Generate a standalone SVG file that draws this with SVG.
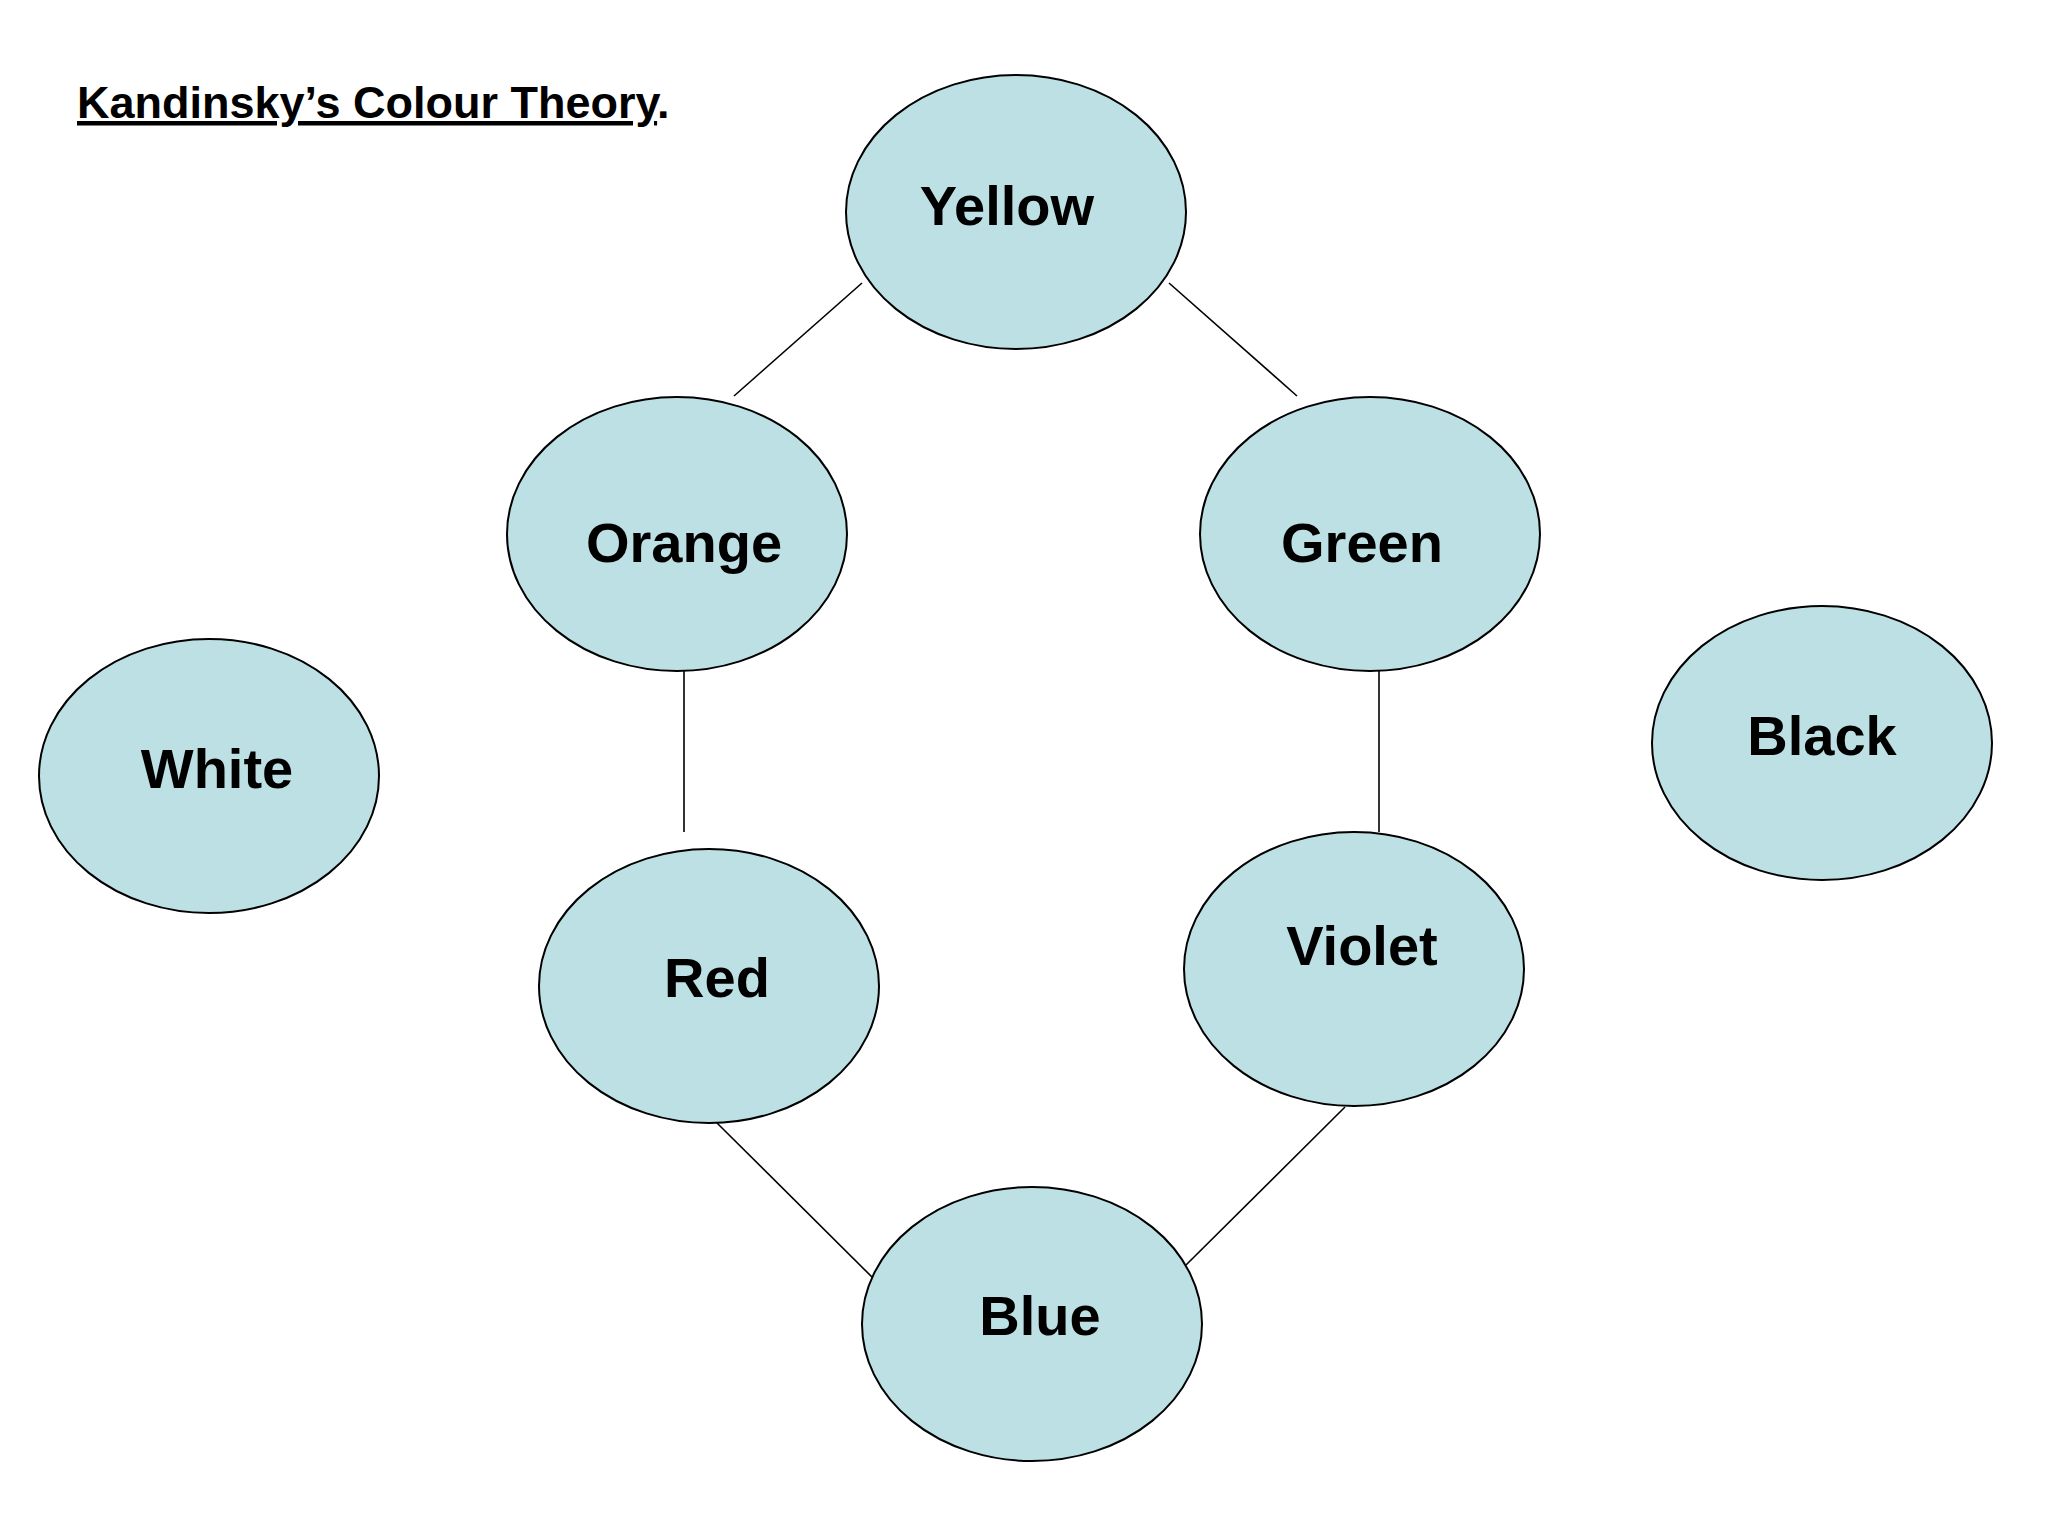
<svg xmlns="http://www.w3.org/2000/svg" width="2048" height="1536" viewBox="0 0 2048 1536">
<style>
.n{fill:#bce0e3;stroke:#000;stroke-width:2}
.t{font-family:"Liberation Sans",Arial,sans-serif;font-weight:bold;font-size:56px;text-anchor:middle;fill:#000}
.c line{stroke:#000;stroke-width:1.6}
</style>
<rect width="2048" height="1536" fill="#fff"/>
<text x="77" y="118" font-family="Liberation Sans,Arial,sans-serif" font-weight="bold" font-size="45" fill="#000"><tspan text-decoration="underline">Kandinsky’s Colour Theory</tspan>.</text>
<g class="c">
<line x1="862" y1="283" x2="734" y2="396"/>
<line x1="1169" y1="283" x2="1297" y2="396"/>
<line x1="684" y1="671" x2="684" y2="832"/>
<line x1="1379" y1="671" x2="1379" y2="832"/>
<line x1="717" y1="1123" x2="879" y2="1284"/>
<line x1="1345" y1="1107" x2="1186" y2="1265"/>
</g>
<g id="yellow"><ellipse class="n" cx="1016" cy="212" rx="170" ry="137"/><text class="t" x="1007" y="225">Yellow</text></g>
<g id="orange"><ellipse class="n" cx="677" cy="534" rx="170" ry="137"/><text class="t" x="684" y="562">Orange</text></g>
<g id="green"><ellipse class="n" cx="1370" cy="534" rx="170" ry="137"/><text class="t" x="1362" y="562">Green</text></g>
<g id="white"><ellipse class="n" cx="209" cy="776" rx="170" ry="137"/><text class="t" x="217" y="788">White</text></g>
<g id="black"><ellipse class="n" cx="1822" cy="743" rx="170" ry="137"/><text class="t" x="1822" y="755">Black</text></g>
<g id="red"><ellipse class="n" cx="709" cy="986" rx="170" ry="137"/><text class="t" x="717" y="997">Red</text></g>
<g id="violet"><ellipse class="n" cx="1354" cy="969" rx="170" ry="137"/><text class="t" x="1362" y="965">Violet</text></g>
<g id="blue"><ellipse class="n" cx="1032" cy="1324" rx="170" ry="137"/><text class="t" x="1040" y="1335">Blue</text></g>
</svg>
